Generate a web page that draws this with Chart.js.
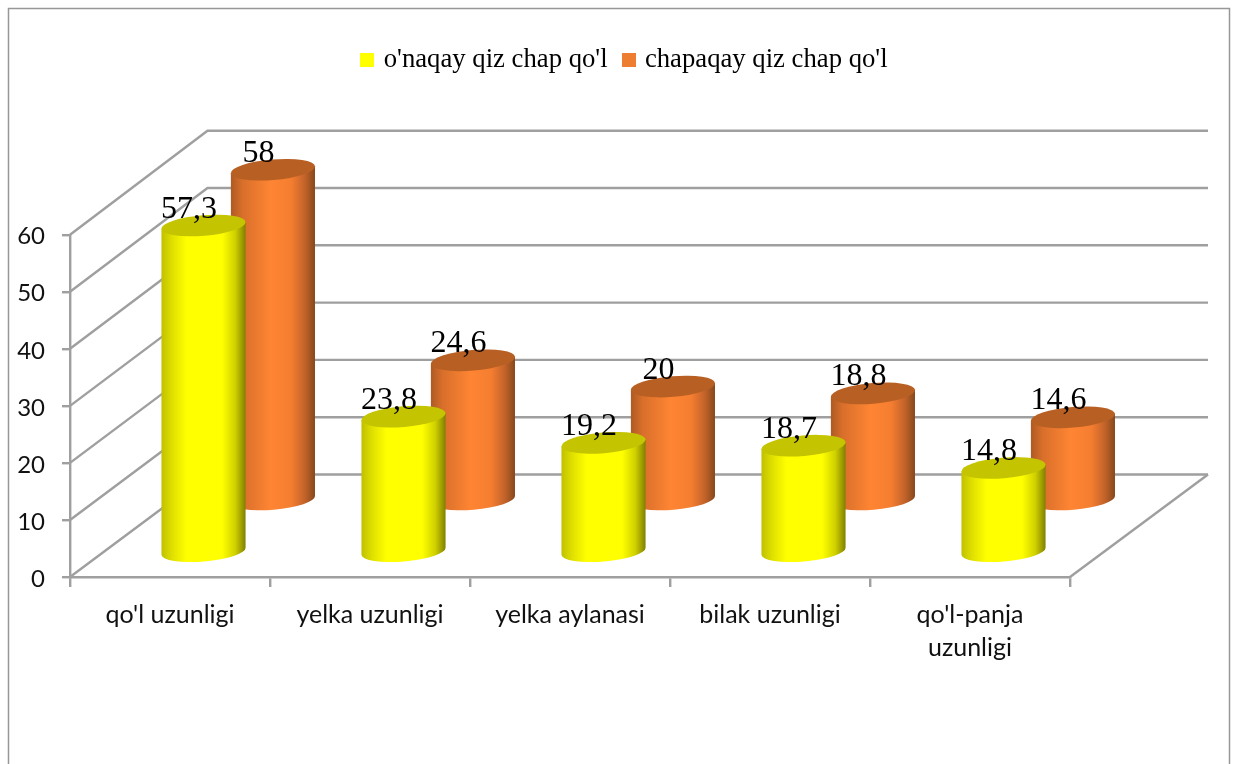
<!DOCTYPE html>
<html><head><meta charset="utf-8">
<style>html,body{margin:0;padding:0;background:#fff;overflow:hidden}#w{width:1235px;height:764px;position:relative}</style>
<script src="https://cdn.jsdelivr.net/npm/chart.js@4"></script>
</head><body><div id="w"><canvas id="c" width="1235" height="764"></canvas></div>
<script>
const categories = ["qo'l uzunligi", "yelka uzunligi", "yelka aylanasi", "bilak uzunligi", ["qo'l-panja", "uzunligi"]];
const rightHanded = [57.3, 23.8, 19.2, 18.7, 14.8];
const leftHanded = [58, 24.6, 20, 18.8, 14.6];
const seriesNames = ["o'naqay qiz chap qo'l", "chapaqay qiz chap qo'l"];
const yTicks = [0, 10, 20, 30, 40, 50, 60];

const depthX = 137.5, depthY = 102.5, wallRight = 1208, wallStretch = 1.5;
const seriesDepth = [0.24, 0.745];
const lineColor = '#9f9f9f';
const looks = [
  {top:'#c4c400', stops:[[0,'#c0c000'],[.12,'#dede00'],[.3,'#ffff00'],[.72,'#ffff00'],[.88,'#cfcf00'],[1,'#7f7f00']]},
  {top:'#b86024', stops:[[0,'#ad5a24'],[.14,'#d96f2b'],[.48,'#ff8533'],[.72,'#f47d30'],[.88,'#c2632a'],[1,'#86481c']]}
];
const tilt = -4.8 * Math.PI / 180;

function cylinder(ctx, cx, topY, baseY, w, look) {
  const rx = w / 2 + .2, ry = 10.3;
  const dx = rx * Math.cos(tilt), dy = rx * Math.sin(tilt);
  const g = ctx.createLinearGradient(cx - dx, 0, cx + dx, 0);
  look.stops.forEach(s => g.addColorStop(s[0], s[1]));
  ctx.beginPath();
  ctx.moveTo(cx - dx, topY - dy);
  ctx.lineTo(cx - dx, baseY - dy);
  ctx.ellipse(cx, baseY, rx, ry, tilt, Math.PI, 0, true);
  ctx.lineTo(cx + dx, topY + dy);
  ctx.closePath();
  ctx.fillStyle = g;
  ctx.fill();
  ctx.beginPath();
  ctx.ellipse(cx, topY, rx, ry, tilt, 0, Math.PI * 2);
  ctx.fillStyle = look.top;
  ctx.fill();
}

const scene = {
  id: 'scene',
  beforeDraw(chart) {
    const c = chart.ctx;
    c.save();
    c.fillStyle = '#fff';
    c.fillRect(0, 0, 1235, 764);
    c.strokeStyle = '#979797';
    c.lineWidth = 1.5;
    c.strokeRect(8.5, 8.5, 1221, 800);
    c.restore();
  },
  afterLayout(chart) {
    const l = chart.legend;
    const shift = 91;
    l.left += shift; l.right += shift;
    l.top = 29; l.bottom = 29 + l.height;
    if (l.legendHitBoxes) l.legendHitBoxes.forEach(h => { h.left += shift; });
  },
  beforeDatasetsDraw(chart) {
    const c = chart.ctx, a = chart.chartArea, y = chart.scales.y;
    c.save();
    c.strokeStyle = lineColor;
    c.lineWidth = 2.4;
    yTicks.forEach(v => {
      const p = y.getPixelForValue(v);
      const back = p - depthY - wallStretch * v / y.max;
      c.beginPath();
      c.moveTo(a.left, p);
      c.lineTo(a.left + depthX, back);
      c.lineTo(wallRight, back);
      c.stroke();
    });
    c.beginPath();
    c.moveTo(a.right, a.bottom);
    c.lineTo(wallRight, a.bottom - depthY);
    c.stroke();
    c.restore();
  },
  beforeDatasetDraw(chart, args) {
    const c = chart.ctx, d = seriesDepth[args.index];
    args.meta.data.forEach(el => {
      cylinder(c, el.x + depthX * d + 0.5, el.y - depthY * d, el.base - depthY * d, el.width, looks[args.index]);
    });
    return false;
  },
  afterDatasetsDraw(chart) {
    const c = chart.ctx;
    c.save();
    c.font = '32px "Liberation Serif"';
    c.fillStyle = '#000';
    c.textAlign = 'center';
    c.textBaseline = 'alphabetic';
    chart.data.datasets.forEach((ds, i) => {
      const d = seriesDepth[i];
      chart.getDatasetMeta(i).data.forEach((el, j) => {
        c.fillText(String(ds.data[j]).replace('.', ','), el.x + depthX * d - 14, el.y - depthY * d - 8);
      });
    });
    c.restore();
  }
};

function swatch(color) {
  const s = document.createElement('canvas');
  s.width = 14; s.height = 14;
  const x = s.getContext('2d');
  x.fillStyle = color; x.fillRect(0, 0, 14, 14);
  return s;
}
const legendColors = ['#ffff00', '#ed7d31'];

new Chart(document.getElementById('c'), {
  type: 'bar',
  data: {
    labels: categories,
    datasets: [
      {label: seriesNames[0], data: rightHanded, backgroundColor: legendColors[0]},
      {label: seriesNames[1], data: leftHanded, backgroundColor: legendColors[1]}
    ]
  },
  plugins: [scene],
  options: {
    responsive: false,
    animation: false,
    layout: {padding: {top: 180, right: 165, left: 0, bottom: 0}},
    datasets: {bar: {grouped: false, barPercentage: .42, categoryPercentage: 1}},
    plugins: {
      tooltip: {enabled: false},
      legend: {
        position: 'top',
        labels: {
          usePointStyle: true,
          pointStyleWidth: 6,
          boxHeight: 14,
          padding: 18,
          color: '#000',
          font: {family: '"Liberation Serif"', size: 26.7},
          generateLabels: chart => chart.data.datasets.map((ds, i) => ({
            text: ds.label, fillStyle: legendColors[i], strokeStyle: legendColors[i], lineWidth: 0,
            pointStyle: swatch(legendColors[i]), datasetIndex: i, hidden: false
          }))
        }
      }
    },
    scales: {
      x: {
        afterFit: s => { s.height = 187; },
        offset: true,
        grid: {offset: true, drawOnChartArea: false, color: lineColor, lineWidth: 2.4, tickLength: 10},
        border: {color: lineColor, width: 2.4},
        ticks: {color: '#111', font: {family: 'Lato', size: 25, lineHeight: 1.3}, padding: 12, maxRotation: 0, autoSkip: false}
      },
      y: {
        min: 0, max: 60,
        afterFit: s => { s.width = 70; },
        afterBuildTicks: s => { s.ticks = yTicks.map(v => ({value: v})); },
        grid: {drawOnChartArea: false, color: lineColor, lineWidth: 2.4, tickLength: 8},
        border: {color: lineColor, width: 2.4},
        ticks: {color: '#111', font: {family: 'Lato', size: 24}, padding: 17, labelOffset: 2}
      }
    }
  }
});
</script></body></html>
